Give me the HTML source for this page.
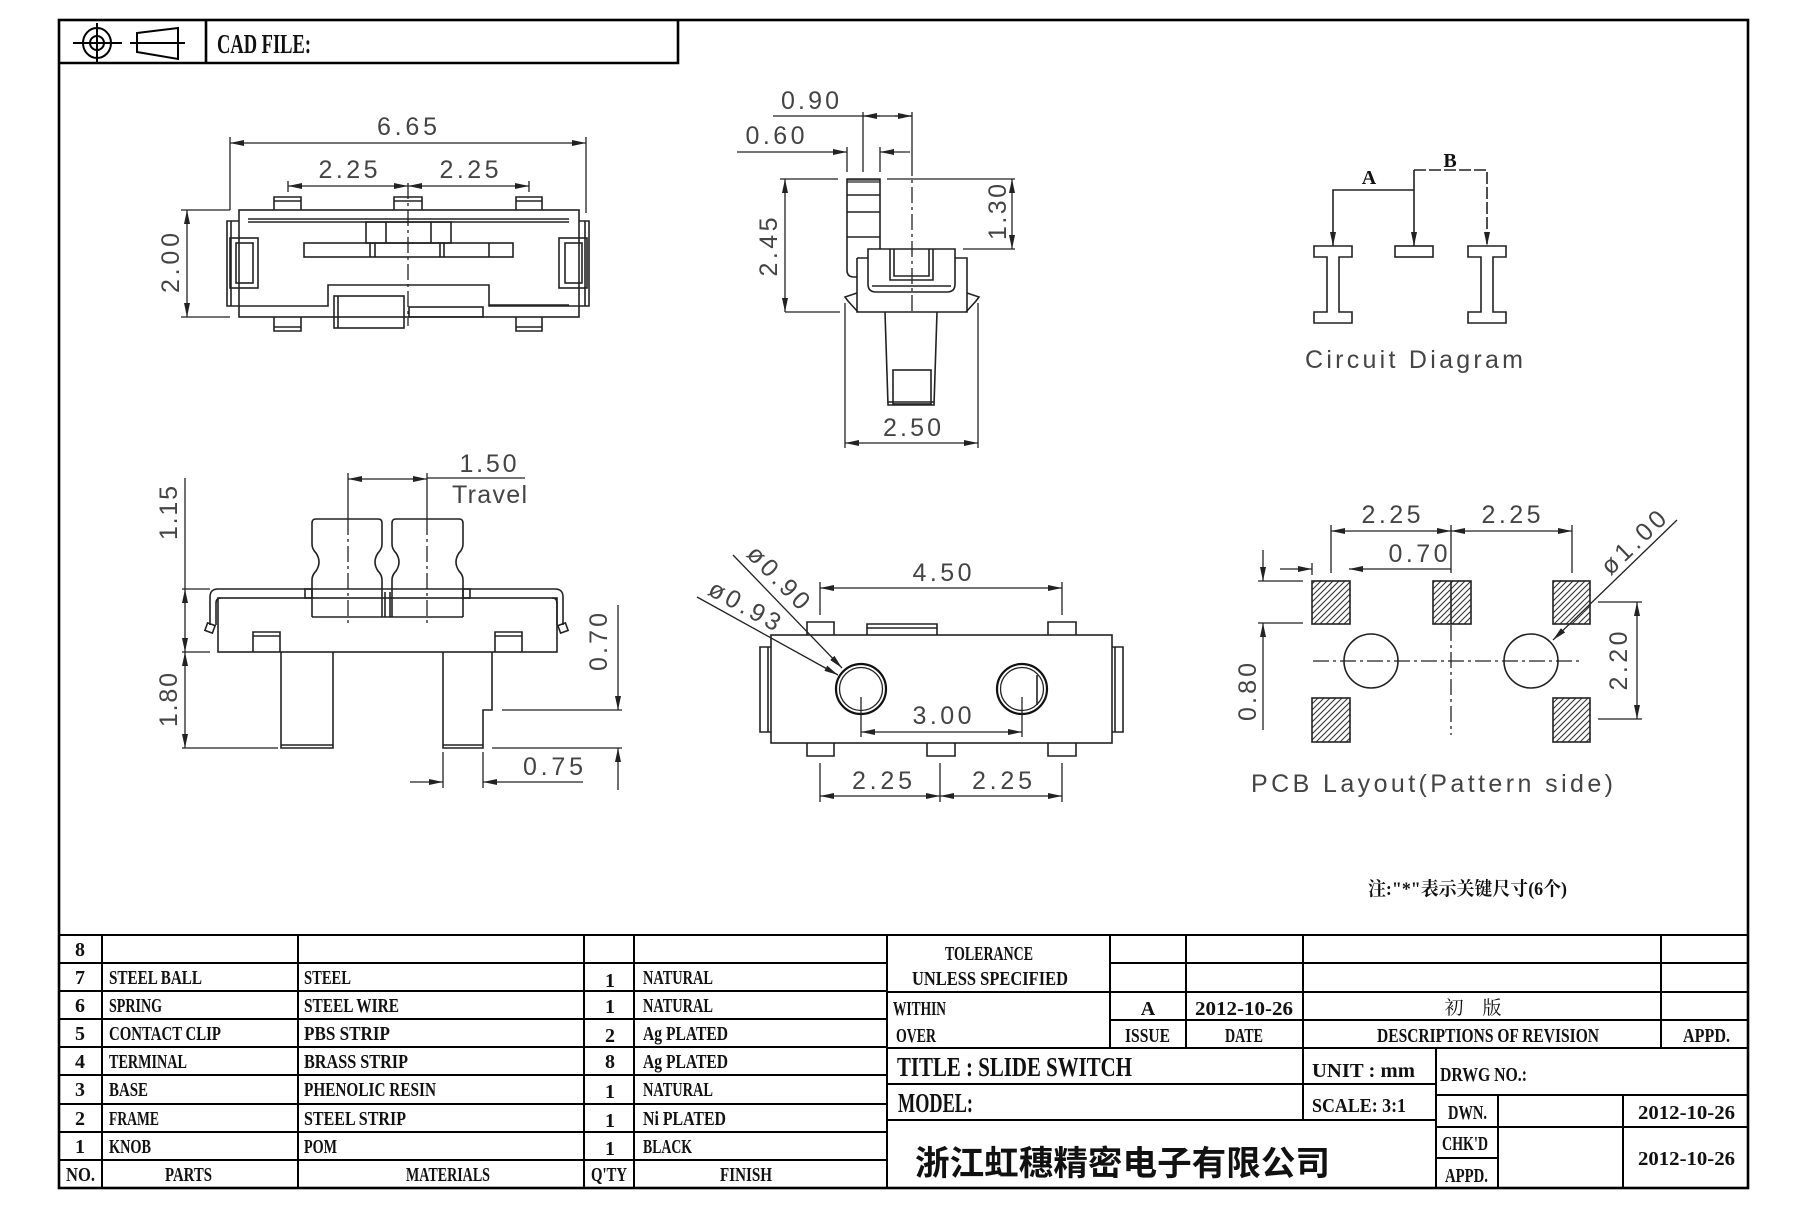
<!DOCTYPE html>
<html><head><meta charset="utf-8"><style>
html,body{margin:0;padding:0;background:#fff;}
svg{display:block;}
.l{stroke:#222;stroke-width:1.6;fill:none;}
.d{stroke:#222;stroke-width:1.3;fill:none;}
.c{stroke:#222;stroke-width:1.3;fill:none;stroke-dasharray:16 4 3 4;}
.f{stroke:#000;stroke-width:2.6;fill:none;}
.g{stroke:#000;stroke-width:2;fill:none;}
.t{font-family:"Liberation Sans",sans-serif;font-size:25px;fill:#444;}
.b{font-family:"Liberation Serif",serif;font-weight:bold;font-size:20px;fill:#111;}
.bb{font-family:"Liberation Serif",serif;font-weight:bold;font-size:27px;fill:#111;}
</style></head><body>
<svg width="1811" height="1207" viewBox="0 0 1811 1207" xmlns="http://www.w3.org/2000/svg">
<defs>
<marker id="a" viewBox="0 0 14 6" refX="14" refY="3" markerWidth="14" markerHeight="6" markerUnits="userSpaceOnUse" orient="auto-start-reverse"><path d="M0,0 L14,3 L0,6 z" fill="#222"/></marker>
<pattern id="h" patternUnits="userSpaceOnUse" width="6" height="6"><path d="M0,6 L6,0 M-1,1 L1,-1 M5,7 L7,5" stroke="#333" stroke-width="1.1"/></pattern>
</defs>
<rect width="1811" height="1207" fill="#fff"/>

<!-- outer frame -->
<rect x="59" y="20" width="1689" height="1168" class="f"/>
<path class="f" d="M59,63 H678 V20 M206,20 V63"/>
<!-- projection symbol -->
<ellipse cx="97" cy="43" rx="14" ry="15" class="g"/>
<circle cx="97" cy="43" r="7" class="g"/>
<path class="g" d="M73,43 H122 M97,23 V63"/>
<path class="g" d="M137,33 L178,28 L178,59 L137,52 Z M130,43 H185"/>
<text class="bb" x="217" y="53" textLength="94" lengthAdjust="spacingAndGlyphs">CAD  FILE:</text>

<!-- ===== Top-left view ===== -->
<g>
<path class="d" d="M230,137 V210 M586,137 V213"/>
<path class="d" d="M230,143 H586" marker-start="url(#a)" marker-end="url(#a)"/>
<text class="t" x="407" y="135" text-anchor="middle" textLength="60">6.65</text>
<path class="d" d="M288,181 V192 M529,181 V192"/>
<path class="d" d="M288,186 H408" marker-start="url(#a)" marker-end="url(#a)"/>
<path class="d" d="M408,186 H529" marker-start="url(#a)" marker-end="url(#a)"/>
<text class="t" x="348" y="178" text-anchor="middle" textLength="59">2.25</text>
<text class="t" x="469" y="178" text-anchor="middle" textLength="59">2.25</text>
<path class="l" d="M274,210 V197 H301 V210 M274,201 H301 M394,210 V197 H422 V210 M394,201 H422 M516,210 V197 H542 V210 M516,201 H542"/>
<rect x="239" y="210" width="340" height="107" class="l"/>
<path class="l" d="M239,221 H227 V306 H239 M231,221 V306 M579,221 H589 V306 H579 M585,221 V306"/>
<path class="l" d="M248,219 H569 M248,222 H569"/>
<rect x="230" y="238" width="28" height="50" class="l"/>
<rect x="236" y="243" width="17" height="40" class="l"/>
<rect x="559" y="238" width="28" height="50" class="l"/>
<rect x="565" y="243" width="17" height="40" class="l"/>
<rect x="366" y="222" width="85" height="21" class="l"/>
<path class="l" d="M386,222 V243 M431,222 V243"/>
<rect x="304" y="243" width="209" height="14" class="l"/>
<path class="l" d="M370,243 V257 M375,243 V257 M440,243 V257 M444,243 V257 M489,243 V257"/>
<path class="l" d="M239,306 H328 V285 H489 V306 H579"/>
<path class="l" stroke-width="2.4" d="M489,305 H569"/>
<rect x="409" y="307" width="74" height="10" class="l"/>
<rect x="334" y="296" width="70" height="32" class="l" fill="#fff"/>
<path class="l" d="M338,296 V328"/>
<path class="l" d="M274,317 V331 H301 V317 M274,327 H301 M516,317 V331 H542 V317 M516,327 H542"/>
<path class="c" d="M408,183 V326"/>
<path class="d" d="M181,210 H230 M181,317 H230"/>
<path class="d" d="M187,210 V317" marker-start="url(#a)" marker-end="url(#a)"/>
<text class="t" transform="translate(170,263) rotate(-90)" x="0" y="9" text-anchor="middle" textLength="60">2.00</text>
</g>

<!-- ===== Top-middle view ===== -->
<g>
<path class="d" d="M773,116 H912"/>
<path class="d" d="M880,116 H863" marker-end="url(#a)"/>
<path class="d" d="M895,116 H912" marker-end="url(#a)"/>
<text class="t" x="810" y="109" text-anchor="middle" textLength="58">0.90</text>
<path class="d" d="M863,112 V172 M912,112 V160"/>
<path class="d" d="M737,152 H847" marker-end="url(#a)"/>
<path class="d" d="M910,152 H880" marker-end="url(#a)"/>
<path class="d" d="M847,147 V172 M880,147 V172"/>
<text class="t" x="775" y="144" text-anchor="middle" textLength="59">0.60</text>
<path class="d" d="M780,179 H838 M887,179 H1015"/>
<path class="d" d="M785,179 V312" marker-start="url(#a)" marker-end="url(#a)"/>
<path class="d" d="M785,312 H840"/>
<text class="t" transform="translate(768,247) rotate(-90)" x="0" y="9" text-anchor="middle" textLength="59">2.45</text>
<path class="d" d="M963,249 H1015"/>
<path class="d" d="M1012,179 V249" marker-start="url(#a)" marker-end="url(#a)"/>
<text class="t" transform="translate(997,212) rotate(-90)" x="0" y="9" text-anchor="middle" textLength="56">1.30</text>
<rect x="847" y="179" width="33" height="4" fill="#777"/>
<path class="l" d="M880,249 V179 H847 V270 Q847,277 854,277 H857"/>
<path class="l" d="M847,195 H880 M847,212 H880 M847,237 H880"/>
<path class="l" d="M857,258 H868 M955,258 H967 V312 H857 V258"/>
<path class="l" d="M868,249 H955 V284 Q955,292 947,292 H876 Q868,292 868,284 Z"/>
<path class="l" d="M872,286 H951"/>
<path class="l" d="M890,249 V280 H933 V249 M894,249 V276 H929 V249"/>
<path class="l" d="M857,293 L845,297 L848,301 L858,312 M967,293 L979,297 L976,301 L966,312"/>
<path class="l" d="M885,312 L888,405 H934 L937,312 M888,402 H934"/>
<rect x="893" y="370" width="38" height="34" class="l"/>
<path class="c" d="M912,160 V312"/>
<path class="d" d="M845,303 V448 M978,303 V448"/>
<path class="d" d="M845,443 H978" marker-start="url(#a)" marker-end="url(#a)"/>
<text class="t" x="912" y="436" text-anchor="middle" textLength="58">2.50</text>
</g>

<!-- ===== Circuit diagram ===== -->
<g>
<path class="l" d="M1414,190 H1333 V246" marker-end="url(#a)"/>
<path class="l" d="M1414,170 V246" marker-end="url(#a)"/>
<path class="l" stroke-dasharray="12 3" d="M1414,170 H1487 V246" marker-end="url(#a)"/>
<path class="l" d="M1314,246 H1352 V257 H1339 V312 H1352 V323 H1314 V312 H1327 V257 H1314 Z"/>
<rect x="1395" y="246" width="38" height="11" class="l"/>
<path class="l" d="M1468,246 H1506 V257 H1493 V312 H1506 V323 H1468 V312 H1481 V257 H1468 Z"/>
<text class="b" x="1369" y="184" text-anchor="middle" font-size="26">A</text>
<text class="b" x="1450" y="167" text-anchor="middle" font-size="26">B</text>
<text class="t" x="1305" y="368" textLength="218">Circuit  Diagram</text>
</g>

<!-- ===== Bottom-left view ===== -->
<g>
<path class="d" d="M348,479 H427" marker-start="url(#a)" marker-end="url(#a)"/>
<path class="d" d="M427,478 H525"/>
<text class="t" x="488" y="472" text-anchor="middle" textLength="57">1.50</text>
<text class="t" x="452" y="503" textLength="75">Travel</text>
<path class="d" d="M348,473 V519 M427,473 V519"/>
<path class="c" d="M348,519 V623 M427,519 V624"/>
<path class="l" d="M312,617 V580 Q312,575 316,571 Q322,562 316,553 Q312,549 312,544 V523 Q312,519 316,519 H378 Q382,519 382,523 V544 Q382,549 378,553 Q372,562 378,571 Q382,575 382,580 V617"/>
<path class="l" d="M392,617 V580 Q392,575 396,571 Q402,562 396,553 Q392,549 392,544 V523 Q392,519 396,519 H459 Q463,519 463,523 V544 Q463,549 459,553 Q453,562 459,571 Q463,575 463,580 V617"/>
<path class="l" d="M312,617 H463 M385,592 V617 M390,592 V617"/>
<path class="l" d="M210,625 V597 Q210,589 218,589 H555 Q563,589 563,597 V625"/>
<path class="l" d="M216,625 V603 Q216,598 221,598"/>
<path class="l" d="M557,625 V603 Q557,598 552,598"/>
<rect x="305" y="589" width="7" height="9" class="l"/>
<rect x="463" y="589" width="7" height="9" class="l"/>
<rect x="206" y="624" width="8" height="8" class="l" transform="rotate(20 210 628)"/>
<rect x="559" y="624" width="8" height="8" class="l" transform="rotate(-20 563 628)"/>
<rect x="218" y="598" width="339" height="54" class="l"/>
<path class="l" d="M253,652 V632 H280 V652 M253,636 H280 M495,652 V632 H522 V652 M495,636 H522"/>
<path class="l" d="M281,652 V748 H333 V652 M281,745 H333"/>
<path class="l" d="M443,652 V748 H483 V710 H492 V652 M443,745 H483"/>
<path class="d" d="M182,589 H210 M182,652 H210 M182,748 H278"/>
<path class="d" d="M185,478 V589"/>
<path class="d" d="M185,589 V652" marker-start="url(#a)" marker-end="url(#a)"/>
<path class="d" d="M185,652 V748" marker-start="url(#a)" marker-end="url(#a)"/>
<text class="t" transform="translate(168,513) rotate(-90)" x="0" y="9" text-anchor="middle" textLength="54">1.15</text>
<text class="t" transform="translate(168,700) rotate(-90)" x="0" y="9" text-anchor="middle" textLength="54">1.80</text>
<path class="d" d="M502,710 H622 M492,748 H622"/>
<path class="d" d="M618,605 V710" marker-end="url(#a)"/>
<path class="d" d="M618,790 V748" marker-end="url(#a)"/>
<text class="t" transform="translate(598,642) rotate(-90)" x="0" y="9" text-anchor="middle" textLength="58">0.70</text>
<path class="d" d="M443,752 V788 M483,752 V788"/>
<path class="d" d="M410,782 H443" marker-end="url(#a)"/>
<path class="d" d="M583,782 H483" marker-end="url(#a)"/>
<text class="t" x="553" y="775" text-anchor="middle" textLength="60">0.75</text>
</g>

<!-- ===== Bottom-middle view ===== -->
<g>
<path class="d" d="M820,582 V615 M1062,582 V615"/>
<path class="d" d="M820,588 H1062" marker-start="url(#a)" marker-end="url(#a)"/>
<text class="t" x="942" y="581" text-anchor="middle" textLength="59">4.50</text>
<path class="l" d="M807,635 V622 H834 V635 M1048,635 V622 H1076 V635"/>
<path class="l" d="M867,635 V624 H937 V635 M867,628 H937"/>
<rect x="771" y="635" width="341" height="108" class="l"/>
<path class="l" d="M771,647 H760 V732 H771 M768,647 V732 M1112,647 H1123 V732 H1112 M1115,647 V732"/>
<path class="l" d="M807,743 V756 H834 V743 M927,743 V756 H955 V743 M1048,743 V756 H1076 V743"/>
<circle cx="861" cy="689" r="25" stroke="#111" stroke-width="2.2" fill="none"/>
<circle cx="861" cy="689" r="21.5" class="d"/>
<circle cx="1022" cy="689" r="25" stroke="#111" stroke-width="2.2" fill="none"/>
<circle cx="1022" cy="689" r="21.5" class="d"/>
<path class="l" d="M1037,675 V705"/>
<path class="d" d="M861,697 V737 M1022,697 V737"/>
<path class="d" d="M861,732 H1022" marker-start="url(#a)" marker-end="url(#a)"/>
<text class="t" x="942" y="724" text-anchor="middle" textLength="59">3.00</text>
<path class="d" d="M820,763 V802 M940,763 V802 M1062,763 V802"/>
<path class="d" d="M820,796 H940" marker-start="url(#a)" marker-end="url(#a)"/>
<path class="d" d="M940,796 H1062" marker-start="url(#a)" marker-end="url(#a)"/>
<text class="t" x="882" y="789" text-anchor="middle" textLength="60">2.25</text>
<text class="t" x="1002" y="789" text-anchor="middle" textLength="60">2.25</text>
<path class="d" d="M733,555 L842,668" marker-end="url(#a)"/>
<path class="d" d="M697,597 L838,675" marker-end="url(#a)"/>
<text class="t" transform="translate(779,577) rotate(46)" x="0" y="9" text-anchor="middle" textLength="78">ø0.90</text>
<text class="t" transform="translate(745,605) rotate(29)" x="0" y="9" text-anchor="middle" textLength="78">ø0.93</text>
</g>

<!-- ===== PCB layout ===== -->
<g>
<path class="d" d="M1331,525 V573 M1451,525 V573 M1572,525 V573 M1312,563 V575"/>
<path class="d" d="M1331,531 H1451" marker-start="url(#a)" marker-end="url(#a)"/>
<path class="d" d="M1451,531 H1572" marker-start="url(#a)" marker-end="url(#a)"/>
<text class="t" x="1391" y="523" text-anchor="middle" textLength="59">2.25</text>
<text class="t" x="1511" y="523" text-anchor="middle" textLength="59">2.25</text>
<path class="d" d="M1451,569 H1349" marker-end="url(#a)"/>
<path class="d" d="M1280,569 H1312" marker-end="url(#a)"/>
<text class="t" x="1418" y="562" text-anchor="middle" textLength="59">0.70</text>
<path class="d" d="M1258,581 H1303 M1258,623 H1303"/>
<path class="d" d="M1263,550 V581" marker-end="url(#a)"/>
<path class="d" d="M1263,730 V623" marker-end="url(#a)"/>
<text class="t" transform="translate(1247,692) rotate(-90)" x="0" y="9" text-anchor="middle" textLength="58">0.80</text>
<rect x="1312" y="581" width="38" height="43" fill="url(#h)" stroke="#222" stroke-width="1.6"/>
<rect x="1433" y="581" width="38" height="43" fill="url(#h)" stroke="#222" stroke-width="1.6"/>
<path class="l" d="M1451,581 V624"/>
<rect x="1553" y="581" width="37" height="43" fill="url(#h)" stroke="#222" stroke-width="1.6"/>
<rect x="1312" y="698" width="38" height="44" fill="url(#h)" stroke="#222" stroke-width="1.6"/>
<rect x="1553" y="698" width="37" height="44" fill="url(#h)" stroke="#222" stroke-width="1.6"/>
<circle cx="1371" cy="661" r="27" class="l"/>
<circle cx="1531" cy="661" r="27" class="l"/>
<path class="c" d="M1313,661 H1583 M1451,625 V735"/>
<path class="d" d="M1598,602 H1642 M1598,719 H1642"/>
<path class="d" d="M1637,602 V719" marker-start="url(#a)" marker-end="url(#a)"/>
<text class="t" transform="translate(1618,661) rotate(-90)" x="0" y="9" text-anchor="middle" textLength="59">2.20</text>
<path class="d" d="M1677,520 L1553,640" marker-end="url(#a)"/>
<text class="t" transform="translate(1633,542) rotate(-44)" x="0" y="9" text-anchor="middle" textLength="80">ø1.00</text>
<text class="t" x="1251" y="792" textLength="362">PCB  Layout(Pattern  side)</text>
</g>

<!-- note -->
<text x="1368" y="895" font-family="'Liberation Serif','Noto Serif CJK SC',serif" font-weight="bold" font-size="19" fill="#111" textLength="199" lengthAdjust="spacingAndGlyphs">注:"*"表示关键尺寸(6个)</text>

<!-- ===== Parts table ===== -->
<g class="g">
<path d="M59,935 H1748"/>
<path d="M59,963 H887 M59,991 H887 M59,1019 H887 M59,1047 H887 M59,1075 H887 M59,1104 H887 M59,1132 H887 M59,1160 H887"/>
<path d="M102,935 V1188 M298,935 V1188 M584,935 V1188 M634,935 V1188 M887,935 V1188"/>
<path d="M1110,963 H1748 M887,992 H1748 M1110,1020 H1748 M887,1048 H1748 M887,1084 H1436 M1436,1095 H1748 M887,1120 H1436 M1436,1127 H1748 M1436,1158 H1498"/>
<path d="M1110,935 V1048 M1186,935 V1048 M1303,935 V1120 M1661,935 V1048 M1436,1048 V1188 M1498,1095 V1188 M1623,1095 V1188"/>
</g>
<g class="b">
<text x="80" y="956" text-anchor="middle">8</text>
<text x="80" y="984" text-anchor="middle">7</text>
<text x="80" y="1012" text-anchor="middle">6</text>
<text x="80" y="1040" text-anchor="middle">5</text>
<text x="80" y="1068" text-anchor="middle">4</text>
<text x="80" y="1096" text-anchor="middle">3</text>
<text x="80" y="1125" text-anchor="middle">2</text>
<text x="80" y="1153" text-anchor="middle">1</text>
<text x="66" y="1181" textLength="29" lengthAdjust="spacingAndGlyphs">NO.</text>

<text x="109" y="984" textLength="93" lengthAdjust="spacingAndGlyphs">STEEL  BALL</text>
<text x="109" y="1012" textLength="53" lengthAdjust="spacingAndGlyphs">SPRING</text>
<text x="109" y="1040" textLength="112" lengthAdjust="spacingAndGlyphs">CONTACT  CLIP</text>
<text x="109" y="1068" textLength="78" lengthAdjust="spacingAndGlyphs">TERMINAL</text>
<text x="109" y="1096" textLength="39" lengthAdjust="spacingAndGlyphs">BASE</text>
<text x="109" y="1125" textLength="50" lengthAdjust="spacingAndGlyphs">FRAME</text>
<text x="109" y="1153" textLength="42" lengthAdjust="spacingAndGlyphs">KNOB</text>
<text x="165" y="1181" textLength="47" lengthAdjust="spacingAndGlyphs">PARTS</text>

<text x="304" y="984" textLength="47" lengthAdjust="spacingAndGlyphs">STEEL</text>
<text x="304" y="1012" textLength="95" lengthAdjust="spacingAndGlyphs">STEEL  WIRE</text>
<text x="304" y="1040" textLength="86" lengthAdjust="spacingAndGlyphs">PBS  STRIP</text>
<text x="304" y="1068" textLength="104" lengthAdjust="spacingAndGlyphs">BRASS  STRIP</text>
<text x="304" y="1096" textLength="132" lengthAdjust="spacingAndGlyphs">PHENOLIC  RESIN</text>
<text x="304" y="1125" textLength="102" lengthAdjust="spacingAndGlyphs">STEEL  STRIP</text>
<text x="304" y="1153" textLength="33" lengthAdjust="spacingAndGlyphs">POM</text>
<text x="406" y="1181" textLength="84" lengthAdjust="spacingAndGlyphs">MATERIALS</text>

<text x="610" y="987" text-anchor="middle">1</text>
<text x="610" y="1013" text-anchor="middle">1</text>
<text x="610" y="1042" text-anchor="middle">2</text>
<text x="610" y="1068" text-anchor="middle">8</text>
<text x="610" y="1098" text-anchor="middle">1</text>
<text x="610" y="1127" text-anchor="middle">1</text>
<text x="610" y="1155" text-anchor="middle">1</text>
<text x="591" y="1181" textLength="36" lengthAdjust="spacingAndGlyphs">Q'TY</text>

<text x="643" y="984" textLength="70" lengthAdjust="spacingAndGlyphs">NATURAL</text>
<text x="643" y="1012" textLength="70" lengthAdjust="spacingAndGlyphs">NATURAL</text>
<text x="643" y="1040" textLength="85" lengthAdjust="spacingAndGlyphs">Ag  PLATED</text>
<text x="643" y="1068" textLength="85" lengthAdjust="spacingAndGlyphs">Ag  PLATED</text>
<text x="643" y="1096" textLength="70" lengthAdjust="spacingAndGlyphs">NATURAL</text>
<text x="643" y="1125" textLength="83" lengthAdjust="spacingAndGlyphs">Ni  PLATED</text>
<text x="643" y="1153" textLength="49" lengthAdjust="spacingAndGlyphs">BLACK</text>
<text x="720" y="1181" textLength="52" lengthAdjust="spacingAndGlyphs">FINISH</text>

<text x="945" y="960" textLength="88" lengthAdjust="spacingAndGlyphs">TOLERANCE</text>
<text x="912" y="985" textLength="156" lengthAdjust="spacingAndGlyphs">UNLESS   SPECIFIED</text>
<text x="893" y="1015" textLength="53" lengthAdjust="spacingAndGlyphs">WITHIN</text>
<text x="896" y="1042" textLength="40" lengthAdjust="spacingAndGlyphs">OVER</text>
<text x="1148" y="1015" text-anchor="middle">A</text>
<text x="1195" y="1015" textLength="98" lengthAdjust="spacingAndGlyphs">2012-10-26</text>
<text x="1125" y="1042" textLength="45" lengthAdjust="spacingAndGlyphs">ISSUE</text>
<text x="1225" y="1042" textLength="38" lengthAdjust="spacingAndGlyphs">DATE</text>
<text x="1377" y="1042" textLength="222" lengthAdjust="spacingAndGlyphs">DESCRIPTIONS  OF  REVISION</text>
<text x="1683" y="1042" textLength="47" lengthAdjust="spacingAndGlyphs">APPD.</text>
<text x="1312" y="1077" textLength="103" lengthAdjust="spacingAndGlyphs">UNIT :  mm</text>
<text x="1312" y="1112" textLength="94" lengthAdjust="spacingAndGlyphs">SCALE:  3:1</text>
<text x="1440" y="1081" textLength="87" lengthAdjust="spacingAndGlyphs">DRWG  NO.:</text>
<text x="1448" y="1119" textLength="39" lengthAdjust="spacingAndGlyphs">DWN.</text>
<text x="1638" y="1119" textLength="97" lengthAdjust="spacingAndGlyphs">2012-10-26</text>
<text x="1442" y="1150" textLength="46" lengthAdjust="spacingAndGlyphs">CHK'D</text>
<text x="1445" y="1182" textLength="43" lengthAdjust="spacingAndGlyphs">APPD.</text>
<text x="1638" y="1165" textLength="97" lengthAdjust="spacingAndGlyphs">2012-10-26</text>
</g>
<text x="1473" y="1014" text-anchor="middle" font-family="'Liberation Serif','Noto Serif CJK SC',serif" font-size="19" fill="#111">初　版</text>
<text class="bb" x="897" y="1076" textLength="235" lengthAdjust="spacingAndGlyphs">TITLE  :  SLIDE  SWITCH</text>
<text class="bb" x="898" y="1112" textLength="75" lengthAdjust="spacingAndGlyphs">MODEL:</text>
<text x="915" y="1175" font-family="'Liberation Sans','Noto Sans CJK SC',sans-serif" font-weight="bold" font-size="34" fill="#111" textLength="415" lengthAdjust="spacingAndGlyphs">浙江虹穗精密电子有限公司</text>
</svg>
</body></html>
